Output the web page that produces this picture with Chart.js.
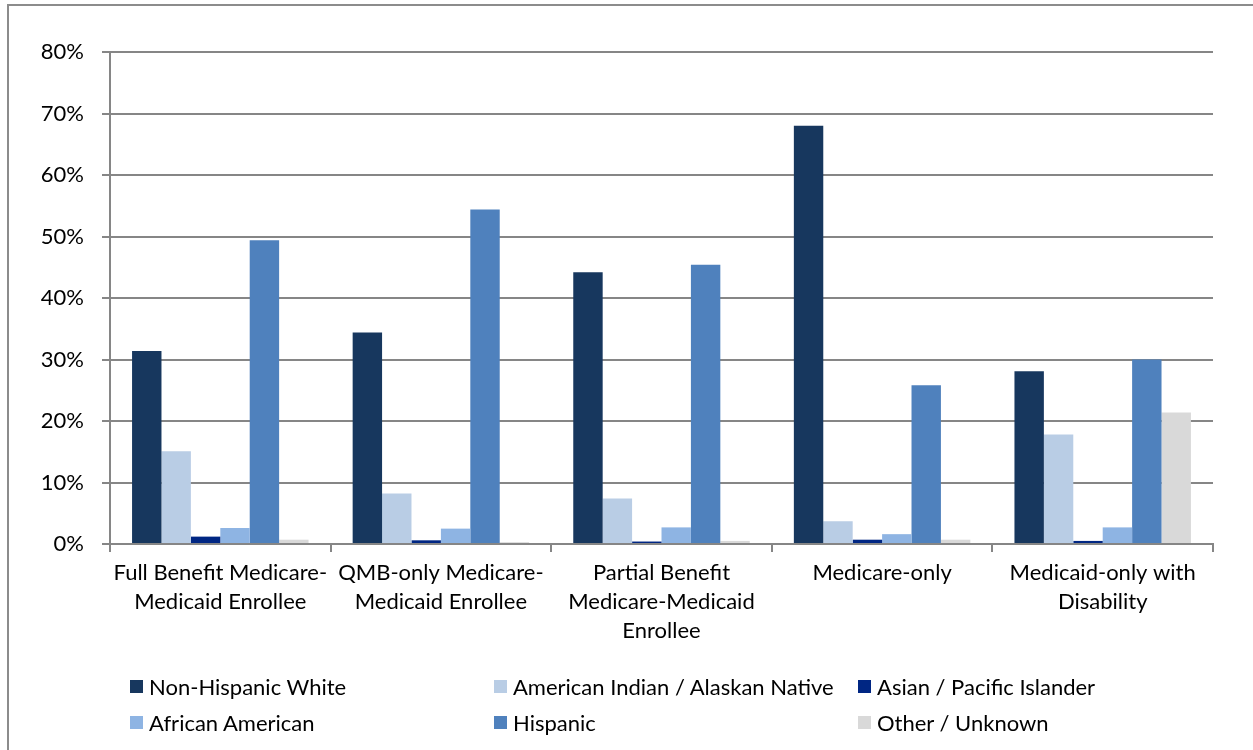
<!DOCTYPE html>
<html>
<head>
<meta charset="utf-8">
<script src="https://cdn.jsdelivr.net/npm/chart.js@4"></script>
<style>
	html, body { margin: 0; padding: 0; background: #fff; overflow: hidden; }
	#wrap { position: relative; width: 1253px; height: 750px; }
	#frame { position: absolute; left: 7px; top: 4px; width: 1270px; height: 770px; border: 2px solid #8c8c8c; box-sizing: border-box; }
	#chart { position: absolute; left: 0; top: 0; }
	#legend { position: absolute; left: 130px; top: 673px; display: grid; grid-template-columns: 364px 364px 364px; row-gap: 9px; font-family: Lato, "Open Sans", sans-serif; font-size: 22px; color: #000; }
	.item { display: flex; align-items: center; height: 27px; }
	.box { width: 13px; height: 13px; margin-right: 6px; }
</style>
</head>
<body>
<div id="wrap">
	<div id="frame"></div>
	<canvas id="chart" width="1253" height="750"></canvas>
	<div id="legend"></div>
</div>
<script>
const categories = [
	['Full Benefit Medicare-', 'Medicaid Enrollee'],
	['QMB-only Medicare-', 'Medicaid Enrollee'],
	['Partial Benefit', 'Medicare-Medicaid', 'Enrollee'],
	['Medicare-only'],
	['Medicaid-only with', 'Disability']
];

const seriesNames = ['Non-Hispanic White', 'American Indian / Alaskan Native', 'Asian / Pacific Islander', 'African American', 'Hispanic', 'Other / Unknown'];
const seriesColors = ['#17375E', '#B9CDE5', '#002683', '#8EB4E3', '#4F81BD', '#D9D9D9'];

const nonHispanicWhite = [31.4, 34.4, 44.2, 68.0, 28.1];
const americanIndian = [15.1, 8.2, 7.4, 3.7, 17.8];
const asianPacific = [1.2, 0.6, 0.4, 0.7, 0.5];
const africanAmerican = [2.6, 2.5, 2.7, 1.6, 2.7];
const hispanic = [49.4, 54.4, 45.4, 25.8, 30.0];
const otherUnknown = [0.7, 0.3, 0.5, 0.7, 21.4];

const yTicks = [0, 10, 20, 30, 40, 50, 60, 70, 80];

const seriesValues = [nonHispanicWhite, americanIndian, asianPacific, africanAmerican, hispanic, otherUnknown];

const datasets = seriesNames.map((name, i) => ({
	label: name,
	data: seriesValues[i],
	backgroundColor: seriesColors[i],
	borderWidth: 0,
	categoryPercentage: 0.8,
	barPercentage: 1.0
}));

const font = { family: 'Lato, "Open Sans", sans-serif', size: 22 };

const chart = new Chart(document.getElementById('chart').getContext('2d'), {
	type: 'bar',
	data: { labels: categories, datasets: datasets },
	options: {
		responsive: false,
		animation: false,
		layout: { padding: { top: 52, right: 40, bottom: 0, left: 0 } },
		plugins: { legend: { display: false }, tooltip: { enabled: false } },
		scales: {
			x: {
				grid: { display: true, drawOnChartArea: false, offset: true, color: '#868686', lineWidth: 2, tickLength: 8 },
				border: { color: '#868686', width: 2 },
				ticks: { color: '#000', font: Object.assign({ lineHeight: '29px' }, font), padding: 6, maxRotation: 0, autoSkip: false },
				afterFit: s => { s.height = 206; }
			},
			y: {
				min: 0,
				max: 80,
				afterBuildTicks: s => { s.ticks = yTicks.map(v => ({ value: v })); },
				grid: { color: '#868686', lineWidth: 2, tickLength: 8 },
				border: { color: '#868686', width: 2 },
				ticks: { color: '#000', font: font, padding: 18, callback: v => v + '%' },
				afterFit: s => { s.width = 110; }
			}
		}
	}
});

const legend = document.getElementById('legend');
chart.data.datasets.forEach(ds => {
	const item = document.createElement('div');
	item.className = 'item';
	const box = document.createElement('span');
	box.className = 'box';
	box.style.background = ds.backgroundColor;
	const text = document.createElement('span');
	text.textContent = ds.label;
	item.appendChild(box);
	item.appendChild(text);
	legend.appendChild(item);
});
</script>
</body>
</html>
